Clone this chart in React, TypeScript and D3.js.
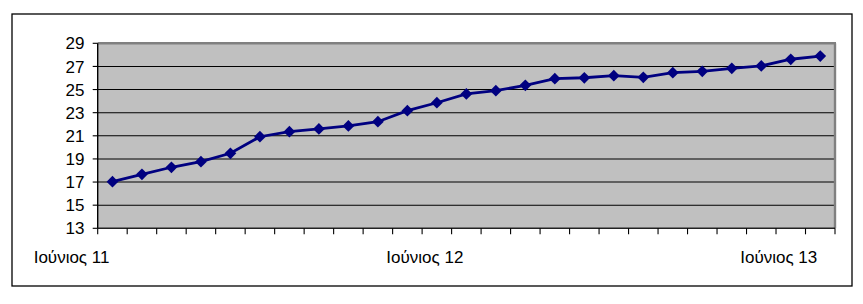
import React from "react";
import * as d3 from "d3";

const categories = [
  "Ιούνιος 11", "Ιούλιος 11", "Αύγουστος 11", "Σεπτέμβριος 11", "Οκτώβριος 11", "Νοέμβριος 11",
  "Δεκέμβριος 11", "Ιανουάριος 12", "Φεβρουάριος 12", "Μάρτιος 12", "Απρίλιος 12", "Μάιος 12",
  "Ιούνιος 12", "Ιούλιος 12", "Αύγουστος 12", "Σεπτέμβριος 12", "Οκτώβριος 12", "Νοέμβριος 12",
  "Δεκέμβριος 12", "Ιανουάριος 13", "Φεβρουάριος 13", "Μάρτιος 13", "Απρίλιος 13", "Μάιος 13",
  "Ιούνιος 13",
];
const values = [
  17.03, 17.67, 18.28, 18.76, 19.49, 20.92, 21.36, 21.59, 21.85, 22.22, 23.17, 23.86,
  24.62, 24.9, 25.37, 25.94, 26.02, 26.2, 26.06, 26.46, 26.58, 26.84, 27.04, 27.62, 27.9,
];
const shownLabels = ["Ιούνιος 11", "Ιούνιος 12", "Ιούνιος 13"];
const yTicks = [13, 15, 17, 19, 21, 23, 25, 27, 29];

const W = 863;
const H = 304;
const plot = { left: 97.7, right: 835, top: 43.3, bottom: 228.3 };
const FONT = "'Liberation Sans', Arial, sans-serif";

export default function App() {
  const x = d3.scaleBand<string>().domain(categories).range([plot.left, plot.right]).padding(0);
  const y = d3.scaleLinear().domain([13, 29]).range([plot.bottom, plot.top]);
  const cx = (c: string) => (x(c) as number) + x.bandwidth() / 2;

  const line = d3
    .line<number>()
    .x((_, i) => cx(categories[i]))
    .y((v) => y(v));

  const diamond = d3.symbol().type(d3.symbolDiamond2).size(88)() as string;

  const tickXs = categories.map((c) => x(c) as number).concat([plot.right]);

  return (
    <svg
      width={W}
      height={H}
      style={{ position: "absolute", left: 0, top: 0, background: "#fff" }}
      fontFamily={FONT}
    >
      <rect x={12} y={14} width={840} height={272} fill="#fff" stroke="#000" strokeWidth={1.3} />
      <rect
        x={plot.left}
        y={plot.top}
        width={plot.right - plot.left}
        height={plot.bottom - plot.top}
        fill="#C0C0C0"
      />
      {yTicks
        .filter((t) => t !== 13 && t !== 29)
        .map((t) => (
          <line key={t} x1={plot.left} x2={plot.right} y1={y(t)} y2={y(t)} stroke="#000" strokeWidth={1.1} />
        ))}
      {/* plot border top and right */}
      <line x1={plot.left} x2={plot.right + 1} y1={plot.top} y2={plot.top} stroke="#808080" strokeWidth={2.4} />
      <line x1={plot.right} x2={plot.right} y1={plot.top} y2={plot.bottom} stroke="#808080" strokeWidth={2.4} />
      {/* axes */}
      <line x1={plot.left} x2={plot.left} y1={plot.top} y2={plot.bottom} stroke="#000" strokeWidth={1.4} />
      <line x1={plot.left} x2={plot.right} y1={plot.bottom} y2={plot.bottom} stroke="#222" strokeWidth={1.4} />
      {yTicks.map((t) => (
        <g key={t}>
          <line x1={plot.left - 5} x2={plot.left} y1={y(t)} y2={y(t)} stroke="#000" strokeWidth={1.1} />
          <text x={84.5} y={y(t)} dy="0.36em" textAnchor="end" fontSize={17} fill="#000">
            {t}
          </text>
        </g>
      ))}
      {tickXs.map((tx, i) => (
        <line key={i} x1={tx} x2={tx} y1={plot.bottom} y2={plot.bottom + 6} stroke="#000" strokeWidth={1.1} />
      ))}
      {shownLabels.map((l) => (
        <text key={l} x={cx(l) - 3} y={263} textAnchor="end" fontSize={17} fill="#000">
          {l}
        </text>
      ))}
      <path d={line(values) as string} fill="none" stroke="#000080" strokeWidth={2.8} />
      {values.map((v, i) => (
        <path key={i} d={diamond} transform={`translate(${cx(categories[i])},${y(v)})`} fill="#000080" />
      ))}
    </svg>
  );
}
